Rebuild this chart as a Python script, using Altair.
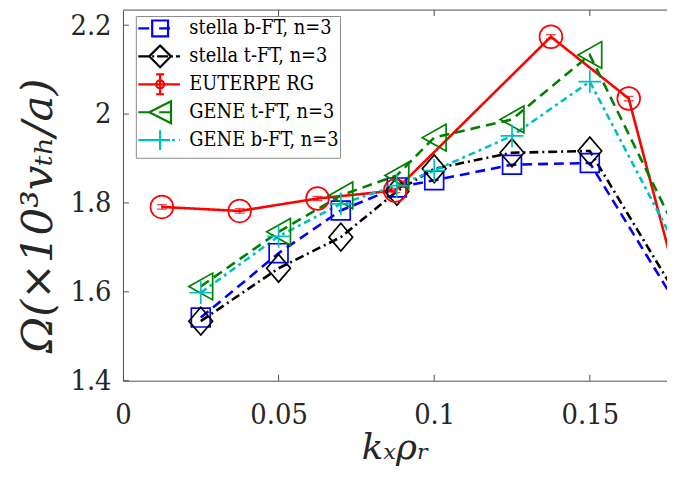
import altair as alt
import pandas as pd

# ---------------- data ----------------
series = ["stella b-FT, n=3", "stella t-FT, n=3", "EUTERPE RG",
          "GENE t-FT, n=3", "GENE b-FT, n=3"]

kx_stella = [0.025, 0.05, 0.07, 0.088, 0.1, 0.125, 0.15, 0.2]
stella_b = [1.542, 1.687, 1.783, 1.835, 1.851, 1.886, 1.890, 1.32]
stella_t = [1.534, 1.653, 1.723, 1.826, 1.877, 1.913, 1.917, 1.336]
gene_t = [1.612, 1.735, 1.817, 1.862, 1.947, 1.988, 2.133, 1.42]
gene_b = [1.598, 1.725, 1.798, 1.839, 1.873, 1.951, 2.073, 1.404]

kx_euterpe = [0.0125, 0.0375, 0.0625, 0.0875, 0.1375, 0.1625, 0.1875]
euterpe = [1.791, 1.782, 1.810, 1.828, 2.174, 2.035, 1.368]
euterpe_err = [0.005, 0.005, 0.005, 0.005, 0.005, 0.005, 0.005]

x_ticks = [0, 0.05, 0.1, 0.15]
y_ticks = [1.4, 1.6, 1.8, 2.0, 2.2]
x_max = 0.1748
y_min, y_max = 1.4, 2.234

colors = ["#0000ff", "#000000", "#ff0000", "#008000", "#00bfbf"]
dashes = [[10, 6], [9, 4, 2, 4], [1, 0], [10, 6], [7, 4, 3, 4]]
widths = [2.6, 2.6, 1.6, 2.6, 2.6]

# ---------------- tables ----------------
rows = []
for name, xs, ys in [(series[0], kx_stella, stella_b), (series[1], kx_stella, stella_t),
                     (series[2], kx_euterpe, euterpe), (series[3], kx_stella, gene_t),
                     (series[4], kx_stella, gene_b)]:
    for a, b in zip(xs, ys):
        rows.append({"series": name, "kx": a, "omega": b})
df = pd.DataFrame(rows)

err_df = pd.DataFrame({"kx": kx_euterpe,
                       "omega": [v - e for v, e in zip(euterpe, euterpe_err)],
                       "omega_hi": [v + e for v, e in zip(euterpe, euterpe_err)]})
cap_df = pd.DataFrame({"kx": kx_euterpe + kx_euterpe,
                       "omega": [v - e for v, e in zip(euterpe, euterpe_err)] +
                                [v + e for v, e in zip(euterpe, euterpe_err)]})
xt_df = pd.DataFrame({"kx": x_ticks[1:]})
yt_df = pd.DataFrame({"omega": y_ticks})
frame_df = pd.DataFrame({"kx": [0], "kx2": [x_max]})

# ---------------- symbol paths (10 px per unit, size 400) ----------------
S = 10.0


def f(v):
    s = f"{v / S:.3f}".rstrip("0").rstrip(".")
    return "0" if s in ("", "-0") else s


def seg(a, b, c=0):
    return f"M{f(a + c)},0H{f(b + c)}"


def square(h, c=0):
    return f"M{f(c - h)},{f(-h)}H{f(c + h)}V{f(h)}H{f(c - h)}Z"


def diamond(w, h, c=0):
    return f"M{f(c)},{f(-h)}L{f(c + w)},0L{f(c)},{f(h)}L{f(c - w)},0Z"


def circle(r, c=0):
    return (f"M{f(c + r)},0A{f(r)},{f(r)} 0 1,1 {f(c - r)},0"
            f"A{f(r)},{f(r)} 0 1,1 {f(c + r)},0Z")


def tri_left(w, h, c=0):
    return f"M{f(c - w)},0L{f(c + w)},{f(-h)}L{f(c + w)},{f(h)}Z"


def plus(h, c=0):
    return f"M{f(c - h)},0H{f(c + h)}M{f(c)},{f(-h)}V{f(h)}"


def box(c=0, h=11.5):
    # empty move-tos that give every legend symbol the same extent
    return f"M{f(c - 22)},{f(-h)}M{f(c + 20)},{f(h)}"


marker_paths = [square(9.5), diamond(12, 14), circle(11.5), tri_left(12, 13.5), plus(11.5)]

C = 12
legend_paths = [
    box(C) + seg(-22, -11, C) + seg(-1, 10, C) + square(8, C),
    box(C) + seg(-22, -11, C) + seg(-8, -6, C) + seg(-3, 8, C) + seg(11, 13, C) + seg(16, 20, C) + diamond(11, 11, C),
    box(C) + seg(-22, 20, C) + circle(4, C) + f"M{f(C)},{f(-10)}V{f(10)}" +
    f"M{f(C - 4)},{f(-10)}H{f(C + 4)}M{f(C - 4)},{f(10)}H{f(C + 4)}",
    box(C) + seg(-22, -11, C) + seg(-1, 10, C) + tri_left(11, 11, C),
    box(C) + seg(-22, -6, C) + seg(-2, 8, C) + seg(12, 15, C) + seg(19, 20, C) + plus(10, C),
]

# ---------------- encodings ----------------
FONT = "DejaVu Serif Condensed, DejaVu Serif, serif"
TFONT = "DejaVu Serif, serif"
AX = "#4d4d4d"
TXT = "#262626"

x_enc = alt.X("kx:Q",
              scale=alt.Scale(domain=[0, x_max], nice=False, zero=False),
              axis=alt.Axis(values=x_ticks, format="~g", title="kₓρᵣ",
                            titleFont=TFONT, titleFontSize=36, titleFontStyle="italic",
                            titleFontWeight="normal", titleColor=TXT,
                            titleY=79, titleBaseline="alphabetic",
                            labelFont=FONT, labelFontSize=29, labelColor=TXT,
                            labelBaseline="alphabetic", labelPadding=43,
                            labelFlush=False, ticks=False, tickSize=0, grid=False,
                            domainColor=AX, domainWidth=1))
y_enc = alt.Y("omega:Q",
              scale=alt.Scale(domain=[y_min, y_max], nice=False, zero=False),
              axis=alt.Axis(values=y_ticks, format="~g", title="Ω(×10³vₜₕ/a)",
                            titleFont=TFONT, titleFontSize=44, titleFontStyle="italic",
                            titleFontWeight="normal", titleColor=TXT,
                            titleX=-72, titleY=207, titleAngle=270,
                            titleBaseline="alphabetic", titleAlign="center",
                            labelFont=FONT, labelFontSize=29, labelColor=TXT,
                            labelPadding=12, labelFlush=False, ticks=False, tickSize=0,
                            grid=False, domainColor=AX, domainWidth=1))

cscale = alt.Scale(domain=series, range=colors)

lines = alt.Chart(df).mark_line(clip=True).encode(
    x=x_enc, y=y_enc,
    color=alt.Color("series:N", scale=cscale, legend=None),
    strokeDash=alt.StrokeDash("series:N", scale=alt.Scale(domain=series, range=dashes), legend=None),
    strokeWidth=alt.StrokeWidth("series:N", scale=alt.Scale(domain=series, range=widths), legend=None),
)

points = alt.Chart(df).mark_point(filled=False, clip=True, size=400, strokeWidth=1.7, opacity=1).encode(
    x=x_enc, y=y_enc,
    color=alt.Color("series:N", scale=cscale, legend=None),
    shape=alt.Shape("series:N", scale=alt.Scale(domain=series, range=marker_paths), legend=None),
)

err_rule = alt.Chart(err_df).mark_rule(color="#ff0000", strokeWidth=1.3, clip=True).encode(
    x=x_enc, y=y_enc, y2=alt.Y2("omega_hi:Q"))
err_caps = alt.Chart(cap_df).mark_tick(color="#ff0000", orient="horizontal", size=10,
                                        thickness=1.3, clip=True).encode(x=x_enc, y=y_enc)

leg = alt.Legend(orient="none", legendX=13, legendY=6, title=None,
                 fillColor="white", strokeColor="#8c8c8c", padding=1,
                 symbolSize=400, symbolStrokeWidth=2.2, symbolOpacity=1,
                 labelFont=FONT, labelFontSize=20, labelColor="black",
                 labelOffset=30, rowPadding=-4.8, labelLimit=400)

legend_layer = alt.Chart(df).mark_point(filled=False, size=400, strokeWidth=2, opacity=0).encode(
    x=x_enc, y=y_enc,
    color=alt.Color("series:N", scale=alt.Scale(domain=series, range=colors), legend=leg),
    shape=alt.Shape("series:N", scale=alt.Scale(domain=series, range=legend_paths), legend=leg),
)

top_frame = alt.Chart(frame_df).mark_rule(color=AX, strokeWidth=1).encode(
    x=x_enc, x2=alt.X2("kx2:Q"), y=alt.value(0))
bottom_ticks = alt.Chart(xt_df).mark_rule(color=AX, strokeWidth=1).encode(
    x=x_enc, y=alt.value(374), y2=alt.value(368))
top_ticks = alt.Chart(xt_df).mark_rule(color=AX, strokeWidth=1).encode(
    x=x_enc, y=alt.value(0), y2=alt.value(6))
left_ticks = alt.Chart(yt_df).mark_rule(color=AX, strokeWidth=1).encode(
    y=y_enc, x=alt.value(0), x2=alt.value(6))

chart = alt.layer(
    top_frame, bottom_ticks, top_ticks, left_ticks,
    lines, err_rule, err_caps, points, legend_layer,
).resolve_scale(color="independent", shape="independent").properties(
    width=549, height=374,
    padding={"left": 116, "top": 0, "right": 0, "bottom": 88},
    autosize=alt.AutoSizeParams(type="none"),
).configure_view(stroke="transparent")

chart.save("out.html", embed_options={"renderer": "svg", "actions": False})
